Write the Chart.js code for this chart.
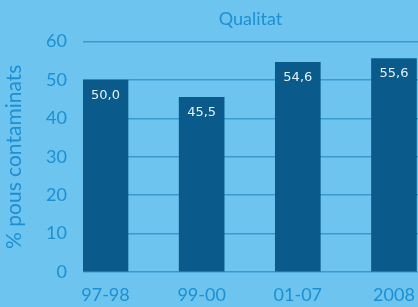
<!DOCTYPE html>
<html>
<head>
<meta charset="utf-8">
<script src="https://cdn.jsdelivr.net/npm/chart.js@4/dist/chart.umd.min.js"></script>
<style>
html,body{margin:0;padding:0;background:#6dc5ef;}
#wrap{width:418px;height:307px;position:relative;}
</style>
</head>
<body>
<div id="wrap"><canvas id="c" width="418" height="307"></canvas></div>
<script>
const categories = ['97-98', '99-00', '01-07', '2008'];
const values = [50.0, 45.5, 54.6, 55.6];
const valueLabels = ['50,0', '45,5', '54,6', '55,6'];
const yTicks = [0, 10, 20, 30, 40, 50, 60];
const chartTitle = 'Qualitat';
const yTitle = '% pous contaminats';

const textBlue = '#1d8fd3';

const barLabels = {
  id: 'barLabels',
  afterDatasetsDraw(chart) {
    const ctx = chart.ctx;
    const meta = chart.getDatasetMeta(0);
    ctx.save();
    ctx.fillStyle = '#e2f2fb';
    ctx.font = '13px "DejaVu Sans"';
    ctx.textAlign = 'center';
    ctx.textBaseline = 'top';
    meta.data.forEach((bar, i) => {
      ctx.fillText(valueLabels[i], bar.x, bar.y + 9);
    });
    ctx.restore();
  }
};

new Chart(document.getElementById('c'), {
  type: 'bar',
  data: {
    datasets: [{
      data: values.map((v, i) => ({x: i, y: v})),
      backgroundColor: '#0a5b8c',
      borderWidth: 0,
      barThickness: 45
    }]
  },
  options: {
    responsive: false,
    animation: false,
    devicePixelRatio: 1,
    layout: {padding: {top: 0, right: 0, bottom: 0, left: 0}},
    plugins: {
      legend: {display: false},
      tooltip: {enabled: false},
      title: {
        display: true,
        fullSize: false,
        text: chartTitle,
        color: textBlue,
        font: {family: 'Lato', size: 18, weight: 'normal'},
        padding: {top: 8, bottom: 12},
        align: 'center'
      }
    },
    scales: {
      x: {
        type: 'linear',
        offset: false,
        min: -0.234,
        max: 3.25,
        afterBuildTicks(scale) {
          scale.ticks = categories.map((c, i) => ({value: i}));
        },
        afterFit(scale) {
          scale.height = 35;
          scale.paddingLeft = 0;
          scale.paddingRight = 0;
        },
        grid: {display: false, drawTicks: false},
        border: {display: false},
        ticks: {
          color: textBlue,
          font: {family: 'Lato', size: 18},
          padding: 12,
          autoSkip: false,
          maxRotation: 0,
          callback: (v) => categories[v]
        }
      },
      y: {
        min: 0,
        max: 60,
        afterBuildTicks(scale) {
          scale.ticks = yTicks.map(v => ({value: v}));
        },
        afterFit(scale) { scale.width = 83; },
        grid: {color: '#3a9acd', lineWidth: 1.5, drawTicks: false},
        border: {display: false},
        ticks: {
          color: textBlue,
          font: {family: 'Lato', size: 18},
          padding: 16
        },
        title: {
          display: true,
          text: yTitle,
          color: textBlue,
          font: {family: 'Lato', size: 21},
          padding: {top: 2, bottom: 0}
        }
      }
    }
  },
  plugins: [barLabels]
});
</script>
</body>
</html>
